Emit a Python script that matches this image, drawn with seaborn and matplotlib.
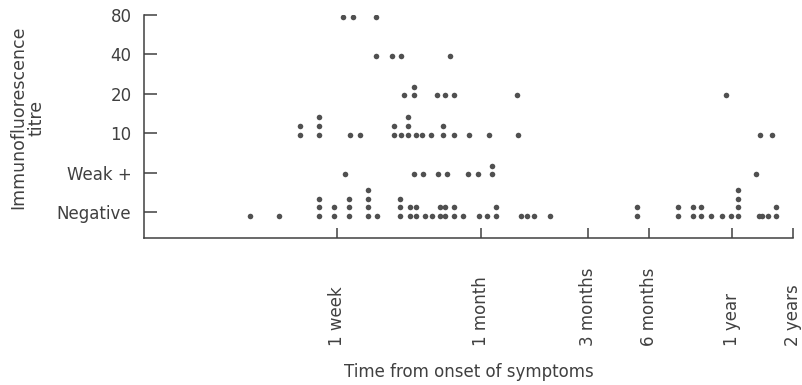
import numpy as np
import pandas as pd
import matplotlib
matplotlib.use("Agg")
import matplotlib.pyplot as plt
import seaborn as sns

titre_labels = ["Negative", "Weak +", "10", "20", "40", "80"]
time_ticks = [7, 30, 90, 180, 365, 730]
time_labels = ["1 week", "1 month", "3 months", "6 months", "1 year", "2 years"]

# days from onset of symptoms for each titre; repeated days are stacked dots
neg_days = [2.9, 3.9, 5.8, 5.8, 5.8, 6.8, 6.8, 7.9, 7.9, 7.9, 9.6, 9.6, 9.6, 9.6,
            10.5, 13.3, 13.3, 13.3, 14.6, 14.6, 15.6, 15.6, 17.1, 18.4, 19.8, 19.8,
            21, 21, 23, 23, 25.2, 29.4, 32.2, 35.3, 35.3, 45.2, 48.1, 51.7, 60.9,
            157, 157, 230, 230, 262, 262, 280, 280, 305, 335, 362,
            391, 391, 391, 391, 496, 513, 549, 602, 602]
weak_days = [7.6, 15.3, 16.8, 19.4, 21.4, 26.3, 29.1, 33.9, 33.9, 479]
t10_days = [4.8, 4.8, 5.8, 5.8, 5.8, 8.0, 8.8, 12.4, 12.4, 13.4, 14.3, 14.3, 14.3,
            15.5, 16.6, 18.2, 20.4, 20.4, 23, 26.8, 32.6, 43.9, 502, 575]
t20_days = [13.8, 15.2, 15.2, 19.2, 21, 23, 43.4, 347]
t40_days = [10.4, 12.2, 13.4, 21.9]
t80_days = [7.4, 8.2, 10.4]

# hand drawn time axis: log-like but irregular between the marked times
anchor_days = [1, 7, 30, 90, 180, 365, 730]
anchor_pos = [0, 193, 336, 443, 504, 587, 648]


def fwd(d):
	d = np.clip(np.asarray(d, dtype=float), 1e-3, None)
	return np.interp(np.log10(d), np.log10(anchor_days), anchor_pos)


def inv(p):
	return 10 ** np.interp(np.asarray(p, dtype=float), anchor_pos, np.log10(anchor_days))


def build_df():
	frames = []
	for lvl, days in enumerate([neg_days, weak_days, t10_days, t20_days, t40_days, t80_days]):
		df = pd.DataFrame({"days": days, "level": lvl})
		df["row"] = df.groupby("days").cumcount()
		frames.append(df)
	df = pd.concat(frames, ignore_index=True)
	base = np.where(df["level"] == 0, -0.1, -0.04)
	df["y"] = df["level"] + base + df["row"] * 0.22
	return df


def main():
	sns.set_style("ticks")
	plt.rcParams["font.family"] = ["DejaVu Sans"]
	ink = "#404040"

	fig = plt.figure(figsize=(8.03, 3.85), dpi=100)
	ax = fig.add_axes([144 / 803, 1 - 238 / 385, (793 - 144) / 803, (238 - 15) / 385])

	data = build_df()
	ax.set_xscale("function", functions=(fwd, inv))
	sns.scatterplot(data=data, x="days", y="y", ax=ax, color="#505050", s=16,
		linewidth=0, legend=False)

	ax.set_xlim(1, 730)
	ax.set_ylim(-0.66, 5)
	ax.set_yticks(range(len(titre_labels)))
	ax.set_yticklabels(titre_labels, fontsize=12, color=ink)
	ax.set_xticks(time_ticks)
	ax.set_xticks([], minor=True)
	ax.set_xticklabels(time_labels, rotation=90, va="bottom", ha="center", fontsize=12, color=ink)

	ax.tick_params(axis="y", direction="in", length=9, width=1.1, pad=9, colors=ink)
	ax.tick_params(axis="x", direction="in", length=7, width=1.1, pad=78, colors=ink)
	for side in ["top", "right"]:
		ax.spines[side].set_visible(False)
	for side in ["left", "bottom"]:
		ax.spines[side].set_linewidth(1.1)
		ax.spines[side].set_color(ink)

	ax.set_xlabel("Time from onset of symptoms", fontsize=12, color=ink, labelpad=12)
	ax.set_ylabel("Immunofluorescence\ntitre", fontsize=12.5, color=ink, linespacing=1.0)
	ax.yaxis.set_label_coords(-0.152, 0.54)

	plt.savefig("out.png", dpi=100)


if __name__ == "__main__":
	main()
